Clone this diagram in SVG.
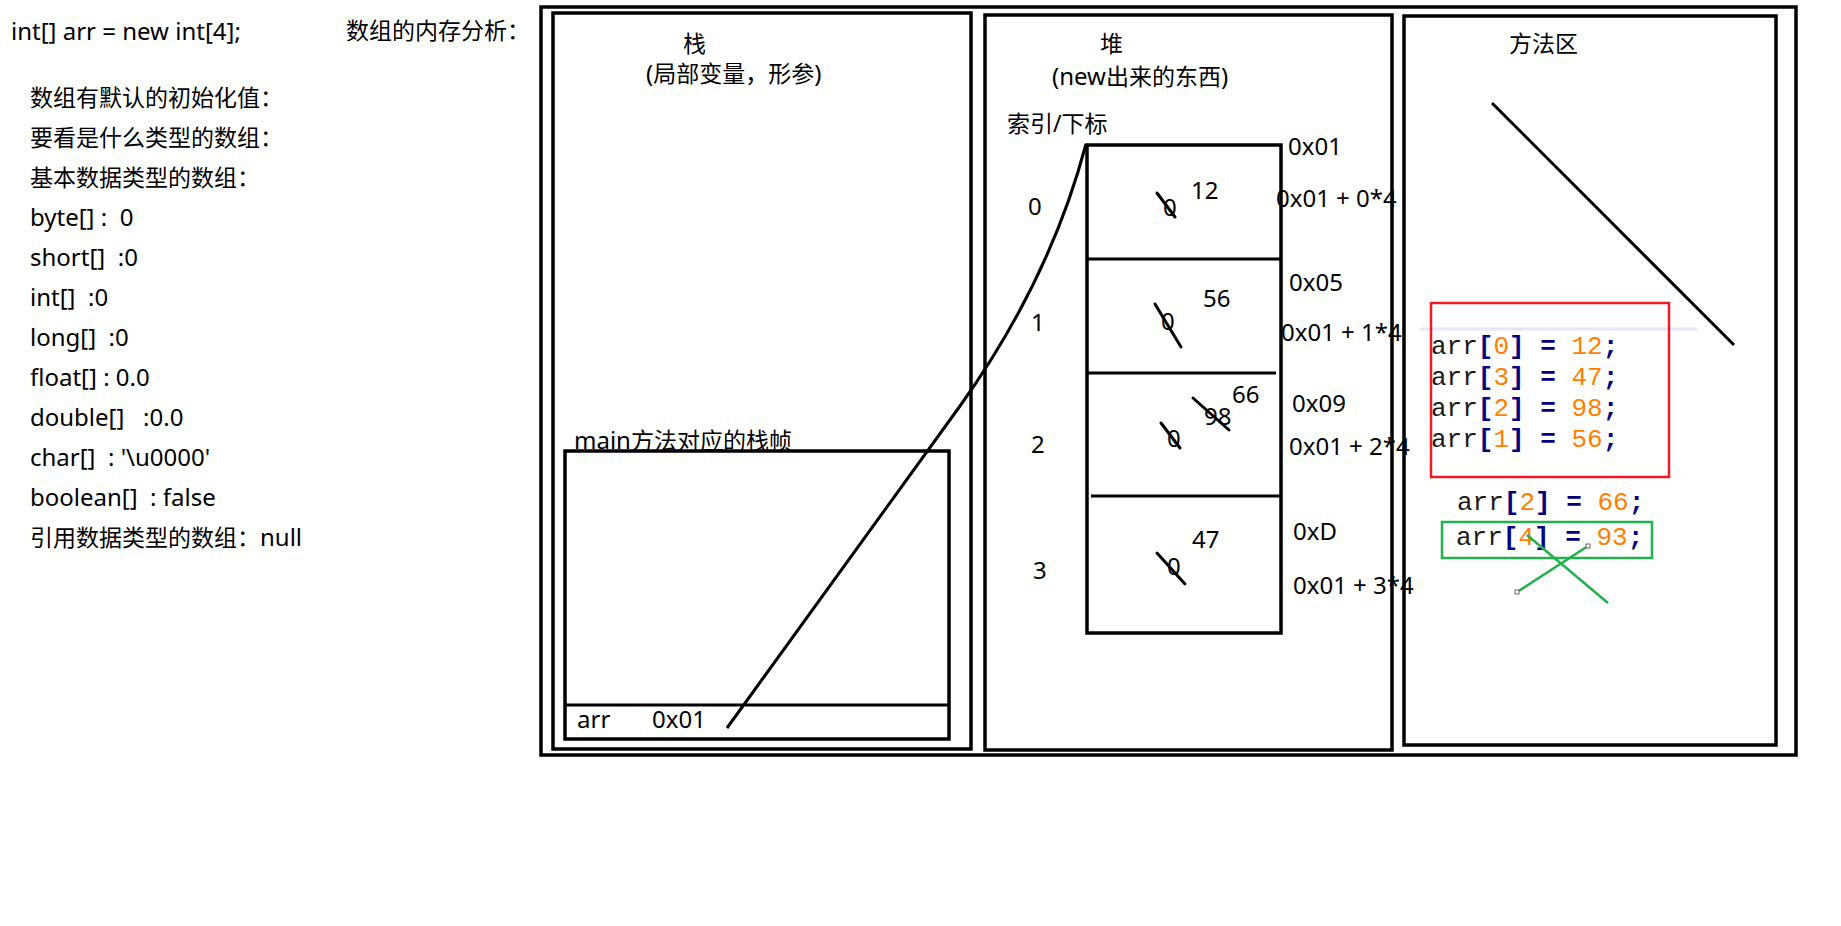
<svg xmlns="http://www.w3.org/2000/svg" width="1841" height="926" viewBox="0 0 1841 926" xml:space="preserve">
<style>
text{white-space:pre}
.t{font-family:"Noto Sans","Noto Sans CJK SC",sans-serif;font-size:23px;fill:#000}
.l{font-family:"Noto Sans","Noto Sans CJK SC",sans-serif;font-size:24px;fill:#000}
.box{fill:none;stroke:#000;stroke-width:3.5}
.ln{stroke:#000;stroke-width:3;fill:none}
.strike{stroke:#000;stroke-width:3;stroke-linecap:round}
.code{font-family:"Liberation Mono","Courier New",monospace;font-size:26px}
.v{fill:#1a1a1a}
.p{fill:#000080;font-weight:bold}
.n{fill:#FF8000}
.h{fill:#fff;stroke:#666;stroke-width:1}
</style>
<rect width="1841" height="926" fill="#fff"/>

<g id="notes">
<text class="l" x="11" y="40">int[] arr = new int[4];</text>
<text class="t" x="346" y="39">数组的内存分析：</text>
<text class="t" x="30" y="106">数组有默认的初始化值：</text>
<text class="t" x="30" y="146">要看是什么类型的数组：</text>
<text class="t" x="30" y="186">基本数据类型的数组：</text>
<text class="l" x="30" y="226">byte[] :  0</text>
<text class="l" x="30" y="266">short[]  :0</text>
<text class="l" x="30" y="306">int[]  :0</text>
<text class="l" x="30" y="346">long[]  :0</text>
<text class="l" x="30" y="386">float[] : 0.0</text>
<text class="l" x="30" y="426">double[]   :0.0</text>
<text class="l" x="30" y="466">char[]  : '\u0000'</text>
<text class="l" x="30" y="506">boolean[]  : false</text>
<text class="t" x="30" y="546">引用数据类型的数组：<tspan class="l">null</tspan></text>
</g>

<g id="memory-frame">
<rect class="box" x="541" y="7" width="1255" height="748"/>
</g>

<g id="stack">
<rect class="box" x="553" y="13" width="418" height="736"/>
<text class="t" x="683" y="52">栈</text>
<text class="t" x="646" y="82"><tspan class="l">(</tspan>局部变量，形参<tspan class="l">)</tspan></text>
</g>

<g id="main-frame">
<text class="t" x="574" y="449"><tspan class="l">main</tspan>方法对应的栈帧</text>
<rect class="box" x="565" y="451" width="384" height="288"/>
<line class="ln" x1="565" y1="705" x2="949" y2="705"/>
<text class="l" x="577" y="728">arr</text>
<text class="l" x="652" y="728">0x01</text>
</g>

<g id="heap">
<rect class="box" x="985" y="15" width="407" height="735"/>
<text class="t" x="1100" y="52">堆</text>
<text class="t" x="1052" y="85"><tspan class="l">(new</tspan>出来的东西<tspan class="l">)</tspan></text>
<text class="t" x="1007" y="132">索引/下标</text>
<text class="l" x="1028" y="215">0</text>
<text class="l" x="1031" y="331">1</text>
<text class="l" x="1031" y="453">2</text>
<text class="l" x="1033" y="579">3</text>
</g>

<g id="array">
<rect class="box" x="1087" y="145" width="194" height="488"/>
<line class="ln" x1="1087" y1="259" x2="1281" y2="259"/>
<line class="ln" x1="1087" y1="373" x2="1276" y2="373"/>
<line class="ln" x1="1091" y1="496" x2="1281" y2="496"/>
<text class="l" x="1288" y="155">0x01</text>
<text class="l" x="1276" y="207">0x01 + 0*4</text>
<text class="l" x="1289" y="291">0x05</text>
<text class="l" x="1281" y="341">0x01 + 1*4</text>
<text class="l" x="1292" y="412">0x09</text>
<text class="l" x="1289" y="455">0x01 + 2*4</text>
<text class="l" x="1293" y="540">0xD</text>
<text class="l" x="1293" y="594">0x01 + 3*4</text>
<text class="l" x="1163" y="216">0</text>
<line class="strike" x1="1157" y1="193" x2="1175" y2="217"/>
<text class="l" x="1191" y="199">12</text>
<text class="l" x="1161" y="330">0</text>
<line class="strike" x1="1155" y1="304" x2="1181" y2="347"/>
<text class="l" x="1203" y="307">56</text>
<text class="l" x="1167" y="447">0</text>
<line class="strike" x1="1161" y1="423" x2="1180" y2="448"/>
<text class="l" x="1204" y="425">98</text>
<line class="strike" x1="1193" y1="398" x2="1229" y2="430"/>
<text class="l" x="1232" y="403">66</text>
<text class="l" x="1167" y="575">0</text>
<line class="strike" x1="1157" y1="553" x2="1185" y2="584"/>
<text class="l" x="1192" y="548">47</text>
</g>

<g id="method-area">
<rect class="box" x="1404" y="16" width="372" height="729"/>
<text class="t" x="1509" y="52">方法区</text>
<line class="ln" x1="1492" y1="103" x2="1734" y2="345"/>
<line x1="1420" y1="329" x2="1697" y2="329" stroke="#E6E6FA" stroke-width="3"/>
<text class="code" x="1431" y="354"><tspan class="v">arr</tspan><tspan class="p">[</tspan><tspan class="n">0</tspan><tspan class="p">]</tspan> <tspan class="p">=</tspan> <tspan class="n">12</tspan><tspan class="p">;</tspan></text>
<text class="code" x="1431" y="385"><tspan class="v">arr</tspan><tspan class="p">[</tspan><tspan class="n">3</tspan><tspan class="p">]</tspan> <tspan class="p">=</tspan> <tspan class="n">47</tspan><tspan class="p">;</tspan></text>
<text class="code" x="1431" y="416"><tspan class="v">arr</tspan><tspan class="p">[</tspan><tspan class="n">2</tspan><tspan class="p">]</tspan> <tspan class="p">=</tspan> <tspan class="n">98</tspan><tspan class="p">;</tspan></text>
<text class="code" x="1431" y="447"><tspan class="v">arr</tspan><tspan class="p">[</tspan><tspan class="n">1</tspan><tspan class="p">]</tspan> <tspan class="p">=</tspan> <tspan class="n">56</tspan><tspan class="p">;</tspan></text>
<rect x="1431" y="303" width="238" height="174" fill="none" stroke="#ED1C24" stroke-width="2.5"/>
<text class="code" x="1457" y="510"><tspan class="v">arr</tspan><tspan class="p">[</tspan><tspan class="n">2</tspan><tspan class="p">]</tspan> <tspan class="p">=</tspan> <tspan class="n">66</tspan><tspan class="p">;</tspan></text>
<text class="code" x="1456" y="545"><tspan class="v">arr</tspan><tspan class="p">[</tspan><tspan class="n">4</tspan><tspan class="p">]</tspan> <tspan class="p">=</tspan> <tspan class="n">93</tspan><tspan class="p">;</tspan></text>
<rect x="1442" y="522" width="210" height="36" fill="none" stroke="#22B14C" stroke-width="2.5"/>
<line x1="1527" y1="535" x2="1608" y2="603" stroke="#22B14C" stroke-width="2.5"/>
<line x1="1517" y1="592" x2="1588" y2="546" stroke="#22B14C" stroke-width="2.5"/>
<rect class="h" x="1515" y="590" width="4" height="4"/>
<rect class="h" x="1586" y="544" width="4" height="4"/>
</g>

<g id="connectors">
<path class="ln" d="M727,728 L960,406 Q1050,280 1086,144" stroke-width="2.5"/>
</g>
</svg>
